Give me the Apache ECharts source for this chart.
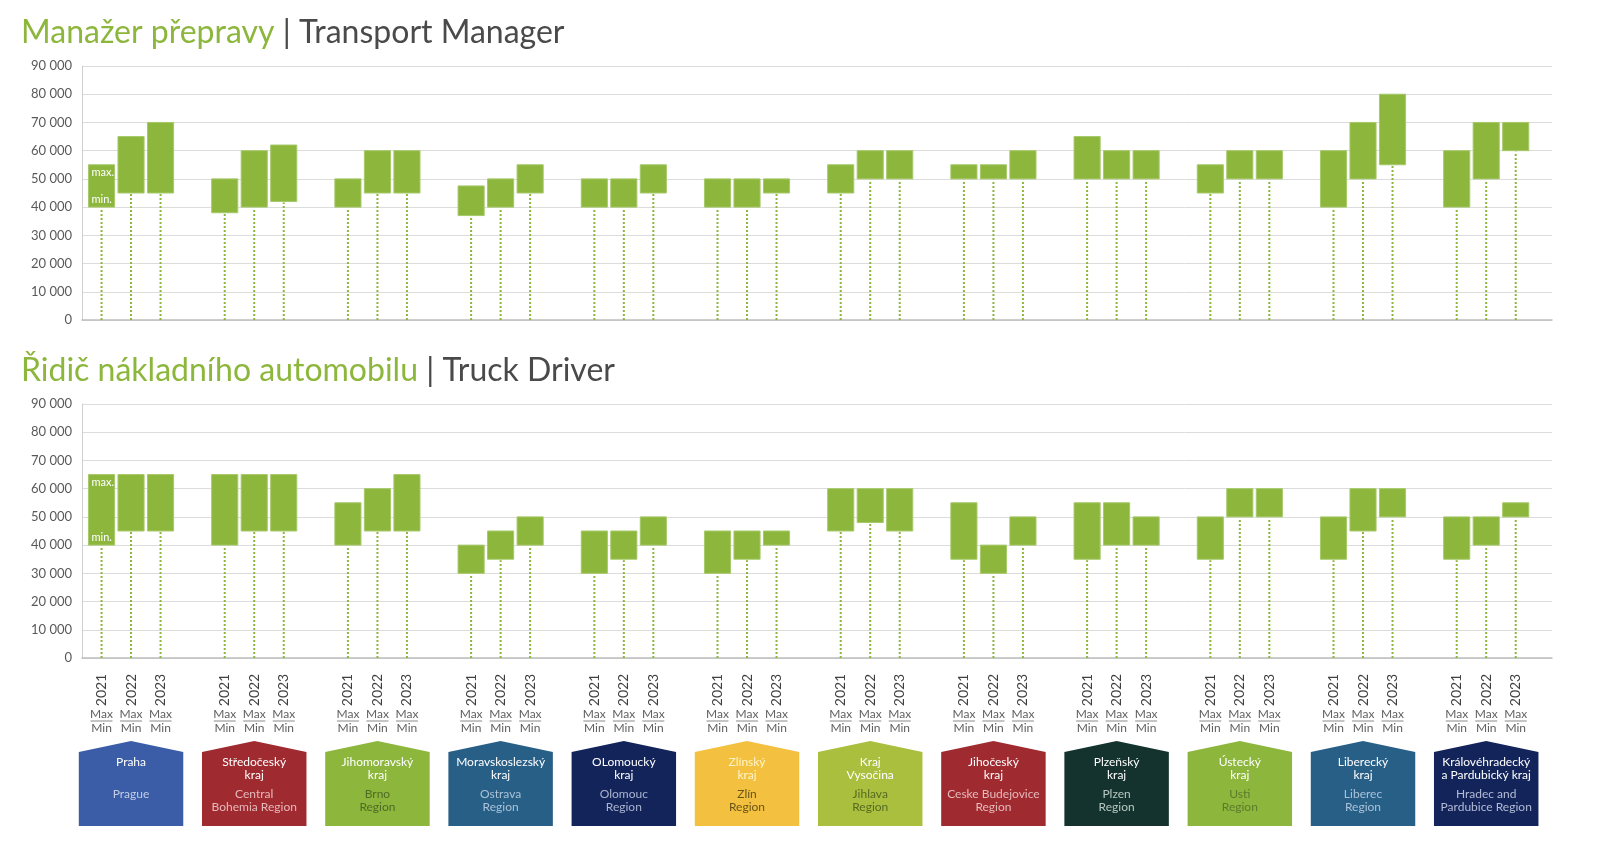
<!DOCTYPE html>
<html><head><meta charset="utf-8">
<script src="https://cdn.jsdelivr.net/npm/echarts@6/dist/echarts.min.js"></script>
<style>html,body{margin:0;padding:0;background:#fff}#c{width:1600px;height:851px}</style>
</head><body><div id="c"></div>
<script>
// ---------- DATA ----------
const years = ['2021', '2022', '2023'];
const regionsCz = ['Praha', 'Středočeský\nkraj', 'Jihomoravský\nkraj', 'Moravskoslezský\nkraj', 'OLomoucký\nkraj', 'Zlínský\nkraj', 'Kraj\nVysočina', 'Jihočeský\nkraj', 'Plzeňský\nkraj', 'Ústecký\nkraj', 'Liberecký\nkraj', 'Královéhradecký\na Pardubický kraj'];
const regionsEn = ['Prague', 'Central\nBohemia Region', 'Brno\nRegion', 'Ostrava\nRegion', 'Olomouc\nRegion', 'Zlín\nRegion', 'Jihlava\nRegion', 'Ceske Budejovice\nRegion', 'Plzen\nRegion', 'Usti\nRegion', 'Liberec\nRegion', 'Hradec and\nPardubice Region'];
const yTickMax = 90000;
const yTickStep = 10000;

// Transport Manager (Manažer přepravy)
const tmMin2021 = [40000, 38000, 40000, 37000, 40000, 40000, 45000, 50000, 50000, 45000, 40000, 40000];
const tmMax2021 = [55000, 50000, 50000, 47500, 50000, 50000, 55000, 55000, 65000, 55000, 60000, 60000];
const tmMin2022 = [45000, 40000, 45000, 40000, 40000, 40000, 50000, 50000, 50000, 50000, 50000, 50000];
const tmMax2022 = [65000, 60000, 60000, 50000, 50000, 50000, 60000, 55000, 60000, 60000, 70000, 70000];
const tmMin2023 = [45000, 42000, 45000, 45000, 45000, 45000, 50000, 50000, 50000, 50000, 55000, 60000];
const tmMax2023 = [70000, 62000, 60000, 55000, 55000, 50000, 60000, 60000, 60000, 60000, 80000, 70000];

// Truck Driver (Řidič nákladního automobilu)
const tdMin2021 = [40000, 40000, 40000, 30000, 30000, 30000, 45000, 35000, 35000, 35000, 35000, 35000];
const tdMax2021 = [65000, 65000, 55000, 40000, 45000, 45000, 60000, 55000, 55000, 50000, 50000, 50000];
const tdMin2022 = [45000, 45000, 45000, 35000, 35000, 35000, 48000, 30000, 40000, 50000, 45000, 40000];
const tdMax2022 = [65000, 65000, 60000, 45000, 45000, 45000, 60000, 40000, 55000, 60000, 60000, 50000];
const tdMin2023 = [45000, 45000, 45000, 40000, 40000, 40000, 45000, 40000, 40000, 50000, 50000, 50000];
const tdMax2023 = [65000, 65000, 65000, 50000, 50000, 45000, 60000, 50000, 50000, 60000, 60000, 55000];

// ---------- STYLE ----------
const GREEN = '#8db63c';
const DARK = '#4a4a4a';
const regionFill = ['#3b5ca6', '#9f2a30', '#8db63c', '#285f87', '#13245a', '#f3c13f', '#aabf3e', '#9f2a30', '#14332e', '#8db63c', '#285f87', '#13245a'];
const regionCzColor = ['#ffffff', '#ffffff', '#ffffff', '#ffffff', '#ffffff', '#fff4c8', '#ffffff', '#ffffff', '#ffffff', '#ffffff', '#ffffff', '#ffffff'];
const regionEnColor = ['#c3cde6', '#e6b9bb', '#4f6b26', '#a9c3d8', '#aab3cf', '#6a5518', '#566a22', '#e6b9bb', '#b7c7c1', '#5c7a2c', '#a9c3d8', '#b3bbd6'];
const FONT = 'Lato, "Open Sans", sans-serif';
const YEAR_STEP = 0.2395;

function fmt(v) { return String(v).replace(/\B(?=(\d{3})+(?!\d))/g, ' '); }

function buildRanges(mins, maxs) {
  const out = [];
  for (let g = 0; g < regionsCz.length; g++)
    for (let j = 0; j < years.length; j++)
      out.push([g + (j - 1) * YEAR_STEP, mins[j][g], maxs[j][g], g, j]);
  return out;
}
function buildLabels() {
  const out = [];
  for (let g = 0; g < regionsCz.length; g++)
    for (let j = 0; j < years.length; j++)
      out.push([g + (j - 1) * YEAR_STEP, g, j]);
  return out;
}

function rangeItem(params, api) {
  const x = api.value(0), lo = api.value(1), hi = api.value(2);
  const p0 = api.coord([x, 0]), pLo = api.coord([x, lo]), pHi = api.coord([x, hi]);
  const w = api.size([1, 0])[0] * 0.212;
  const ch = [
    { type: 'line', shape: { x1: p0[0], y1: p0[1], x2: pLo[0], y2: pLo[1] + 1 },
      style: { stroke: GREEN, lineWidth: 2, lineDash: [2, 2] } },
    { type: 'rect', shape: { x: pHi[0] - w / 2, y: pHi[1], width: w, height: pLo[1] - pHi[1] },
      style: { fill: GREEN, stroke: '#a6c96a', lineWidth: 1 } }
  ];
  if (params.dataIndex === 0) {
    ch.push({ type: 'text', style: { text: 'max.', x: pHi[0] - w / 2 + 3, y: pHi[1] + 2, fill: '#ffffff', font: '11px ' + FONT, verticalAlign: 'top' } });
    ch.push({ type: 'text', style: { text: 'min.', x: pHi[0] - w / 2 + 3, y: pLo[1] - 2, fill: '#ffffff', font: '11px ' + FONT, verticalAlign: 'bottom' } });
  }
  return { type: 'group', children: ch };
}

function labelItem(params, api) {
  const x = api.value(0), j = api.value(2);
  const p0 = api.coord([x, 0]);
  const cx = p0[0], y0 = p0[1];
  return { type: 'group', children: [
    { type: 'text', x: cx, y: y0 + 32, rotation: Math.PI / 2,
      style: { text: years[j], align: 'center', verticalAlign: 'middle', font: '14px ' + FONT, fill: '#3f3f3f' } },
    { type: 'text', style: { text: 'Max', x: cx, y: y0 + 56, align: 'center', verticalAlign: 'middle', font: '12px ' + FONT, fill: '#5f5f5f' } },
    { type: 'line', shape: { x1: cx - 11, y1: y0 + 63, x2: cx + 11, y2: y0 + 63 }, style: { stroke: '#8a8a8a', lineWidth: 1 } },
    { type: 'text', style: { text: 'Min', x: cx, y: y0 + 70, align: 'center', verticalAlign: 'middle', font: '12px ' + FONT, fill: '#5f5f5f' } }
  ] };
}

function regionItem(params, api) {
  const g = api.value(0);
  const p0 = api.coord([g, 0]);
  const cx = p0[0], y0 = p0[1];
  const hw = api.size([1, 0])[0] * 0.424;
  return { type: 'group', children: [
    { type: 'polygon', shape: { points: [[cx, y0 + 83], [cx + hw, y0 + 94], [cx + hw, y0 + 168], [cx - hw, y0 + 168], [cx - hw, y0 + 94]] },
      style: { fill: regionFill[g] } },
    { type: 'text', style: { text: regionsCz[g], x: cx, y: y0 + 98, align: 'center', verticalAlign: 'top', lineHeight: 13,
      font: '12px ' + FONT, fill: regionCzColor[g] } },
    { type: 'text', style: { text: regionsEn[g], x: cx, y: y0 + 130, align: 'center', verticalAlign: 'top', lineHeight: 13,
      font: '12px ' + FONT, fill: regionEnColor[g] } }
  ] };
}

function xAxisDef(idx) {
  return { type: 'value', gridIndex: idx, min: -0.398, max: 11.534,
    axisLine: { show: true, onZero: false, lineStyle: { color: '#bdbdbd', width: 1.5 } },
    axisTick: { show: false }, axisLabel: { show: false }, splitLine: { show: false } };
}
function yAxisDef(idx) {
  return { type: 'value', gridIndex: idx, min: 0, max: yTickMax, interval: yTickStep,
    axisLine: { show: true, onZero: false, lineStyle: { color: '#d0d0d0', width: 1 } },
    axisTick: { show: false },
    axisLabel: { formatter: fmt, color: '#595959', fontSize: 13, fontFamily: FONT, margin: 10 },
    splitLine: { show: true, lineStyle: { color: '#dcdcdc', width: 1 } } };
}

const titleRich = {
  a: { fontSize: 32, color: GREEN, fontFamily: FONT, fontWeight: 'normal' },
  b: { fontSize: 32, color: DARK, fontFamily: FONT, fontWeight: 'normal' }
};

const chart = echarts.init(document.getElementById('c'));
chart.setOption({
  backgroundColor: '#ffffff',
  animation: false,
  title: [
    { left: 16, top: 12, text: '{a|Manažer přepravy}{b| | Transport Manager}',
      textStyle: { fontWeight: 'normal', rich: titleRich } },
    { left: 16, top: 350, text: '{a|Řidič nákladního automobilu}{b| | Truck Driver}',
      textStyle: { fontWeight: 'normal', rich: titleRich } }
  ],
  grid: [
    { left: 82, right: 48, top: 66, height: 254 },
    { left: 82, right: 48, top: 404, height: 254 }
  ],
  xAxis: [xAxisDef(0), xAxisDef(1)],
  yAxis: [yAxisDef(0), yAxisDef(1)],
  series: [
    { type: 'custom', name: 'Transport Manager', xAxisIndex: 0, yAxisIndex: 0, renderItem: rangeItem,
      encode: { x: 0, y: [1, 2] },
      data: buildRanges([tmMin2021, tmMin2022, tmMin2023], [tmMax2021, tmMax2022, tmMax2023]) },
    { type: 'custom', name: 'Truck Driver', xAxisIndex: 1, yAxisIndex: 1, renderItem: rangeItem,
      encode: { x: 0, y: [1, 2] },
      data: buildRanges([tdMin2021, tdMin2022, tdMin2023], [tdMax2021, tdMax2022, tdMax2023]) },
    { type: 'custom', name: 'labels', xAxisIndex: 1, yAxisIndex: 1, renderItem: labelItem, clip: false,
      encode: { x: 0 }, data: buildLabels() },
    { type: 'custom', name: 'regions', xAxisIndex: 1, yAxisIndex: 1, renderItem: regionItem, clip: false,
      encode: { x: 0 }, data: regionsCz.map((_, g) => [g]) }
  ]
});
</script></body></html>
